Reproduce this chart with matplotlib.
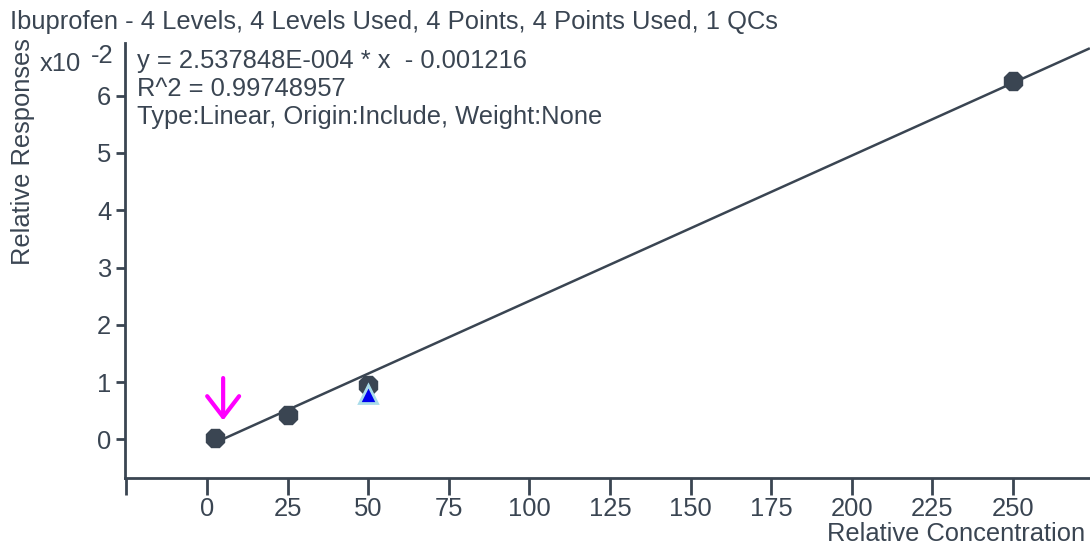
import matplotlib
matplotlib.use("Agg")
import matplotlib.pyplot as plt
import numpy as np

# ---- data ----
conc = [2.5, 25, 50, 250]
resp = [0.03, 0.42, 0.95, 6.26]          # x10^-2
qc_conc = [50]
qc_resp = [0.80]
slope = 2.537848e-4 * 100                # in x10^-2 units
intercept = -0.001216 * 100
line_x = [2.5, 273.5]
xticks = [0, 25, 50, 75, 100, 125, 150, 175, 200, 225, 250]
yticks = [0, 1, 2, 3, 4, 5, 6]
title = "Ibuprofen - 4 Levels, 4 Levels Used, 4 Points, 4 Points Used, 1 QCs"
eq_lines = ["y = 2.537848E-004 * x  - 0.001216",
            "R^2 = 0.99748957",
            "Type:Linear, Origin:Include, Weight:None"]
arrow_x = 5.0

C = "#3a4552"
W, H = 1090, 544
plt.rcParams['font.family'] = ['Liberation Sans', 'DejaVu Sans']
fs = 18.4

fig = plt.figure(figsize=(W / 100, H / 100), dpi=100)
ax = fig.add_axes([124.5 / W, 1 - 477.7 / H, (W - 124.5) / W, (477.7 - 43) / H])
ax.set_xlim(-25.6, 273.9)
ax.set_ylim(-0.67, 6.92)

ly = [slope * x + intercept for x in line_x]
ax.plot(line_x, ly, color=C, lw=1.8, zorder=2, clip_on=False)
ax.plot(conc, resp, linestyle='none', marker='8', ms=14, color=C, mec=C, zorder=3, clip_on=False)
ax.plot(qc_conc, qc_resp, linestyle='none', marker='^', ms=13.5, color='#0000ee',
        mec='#a9dcea', mew=2, zorder=4)

ax.annotate('', xy=(arrow_x, 0.33), xytext=(arrow_x, 1.07),
            arrowprops=dict(arrowstyle='->,head_length=1.5,head_width=1.15',
                            color='#ff00ff', lw=3, shrinkA=0, shrinkB=0))

for s in ['top', 'right']:
    ax.spines[s].set_visible(False)
for s in ['left', 'bottom']:
    ax.spines[s].set_color(C)
    ax.spines[s].set_linewidth(2)

ax.set_xticks(xticks)
ax.set_xticklabels([str(t) for t in xticks])
ax.set_xticks([-25], minor=True)
ax.tick_params(axis='x', which='both', length=12, width=2, color=C, labelcolor=C,
               labelsize=fs, pad=2)
ax.set_yticks(yticks)
ax.set_yticklabels([str(t) for t in yticks])
ax.tick_params(axis='y', length=6.5, width=2, color=C, labelcolor=C, labelsize=fs, pad=3)

fig.text(10 / W, 1 - 22 / H, title, fontsize=fs, color=C, va='center', ha='left')
for i, t in enumerate(eq_lines):
    fig.text(137 / W, 1 - (61 + i * 28) / H, t, fontsize=fs, color=C, va='center', ha='left')
fig.text(40 / W, 1 - 64 / H, "x10", fontsize=fs, color=C, va='center', ha='left')
fig.text(91 / W, 1 - 56 / H, "-2", fontsize=fs, color=C, va='center', ha='left')
fig.text(23 / W, 1 - 152 / H, "Relative Responses", fontsize=fs, color=C, va='center',
         ha='center', rotation=90)
fig.text(1085 / W, 1 - 541 / H, "Relative Concentration", fontsize=fs, color=C,
         va='baseline', ha='right')

fig.savefig("out.png", dpi=100)
